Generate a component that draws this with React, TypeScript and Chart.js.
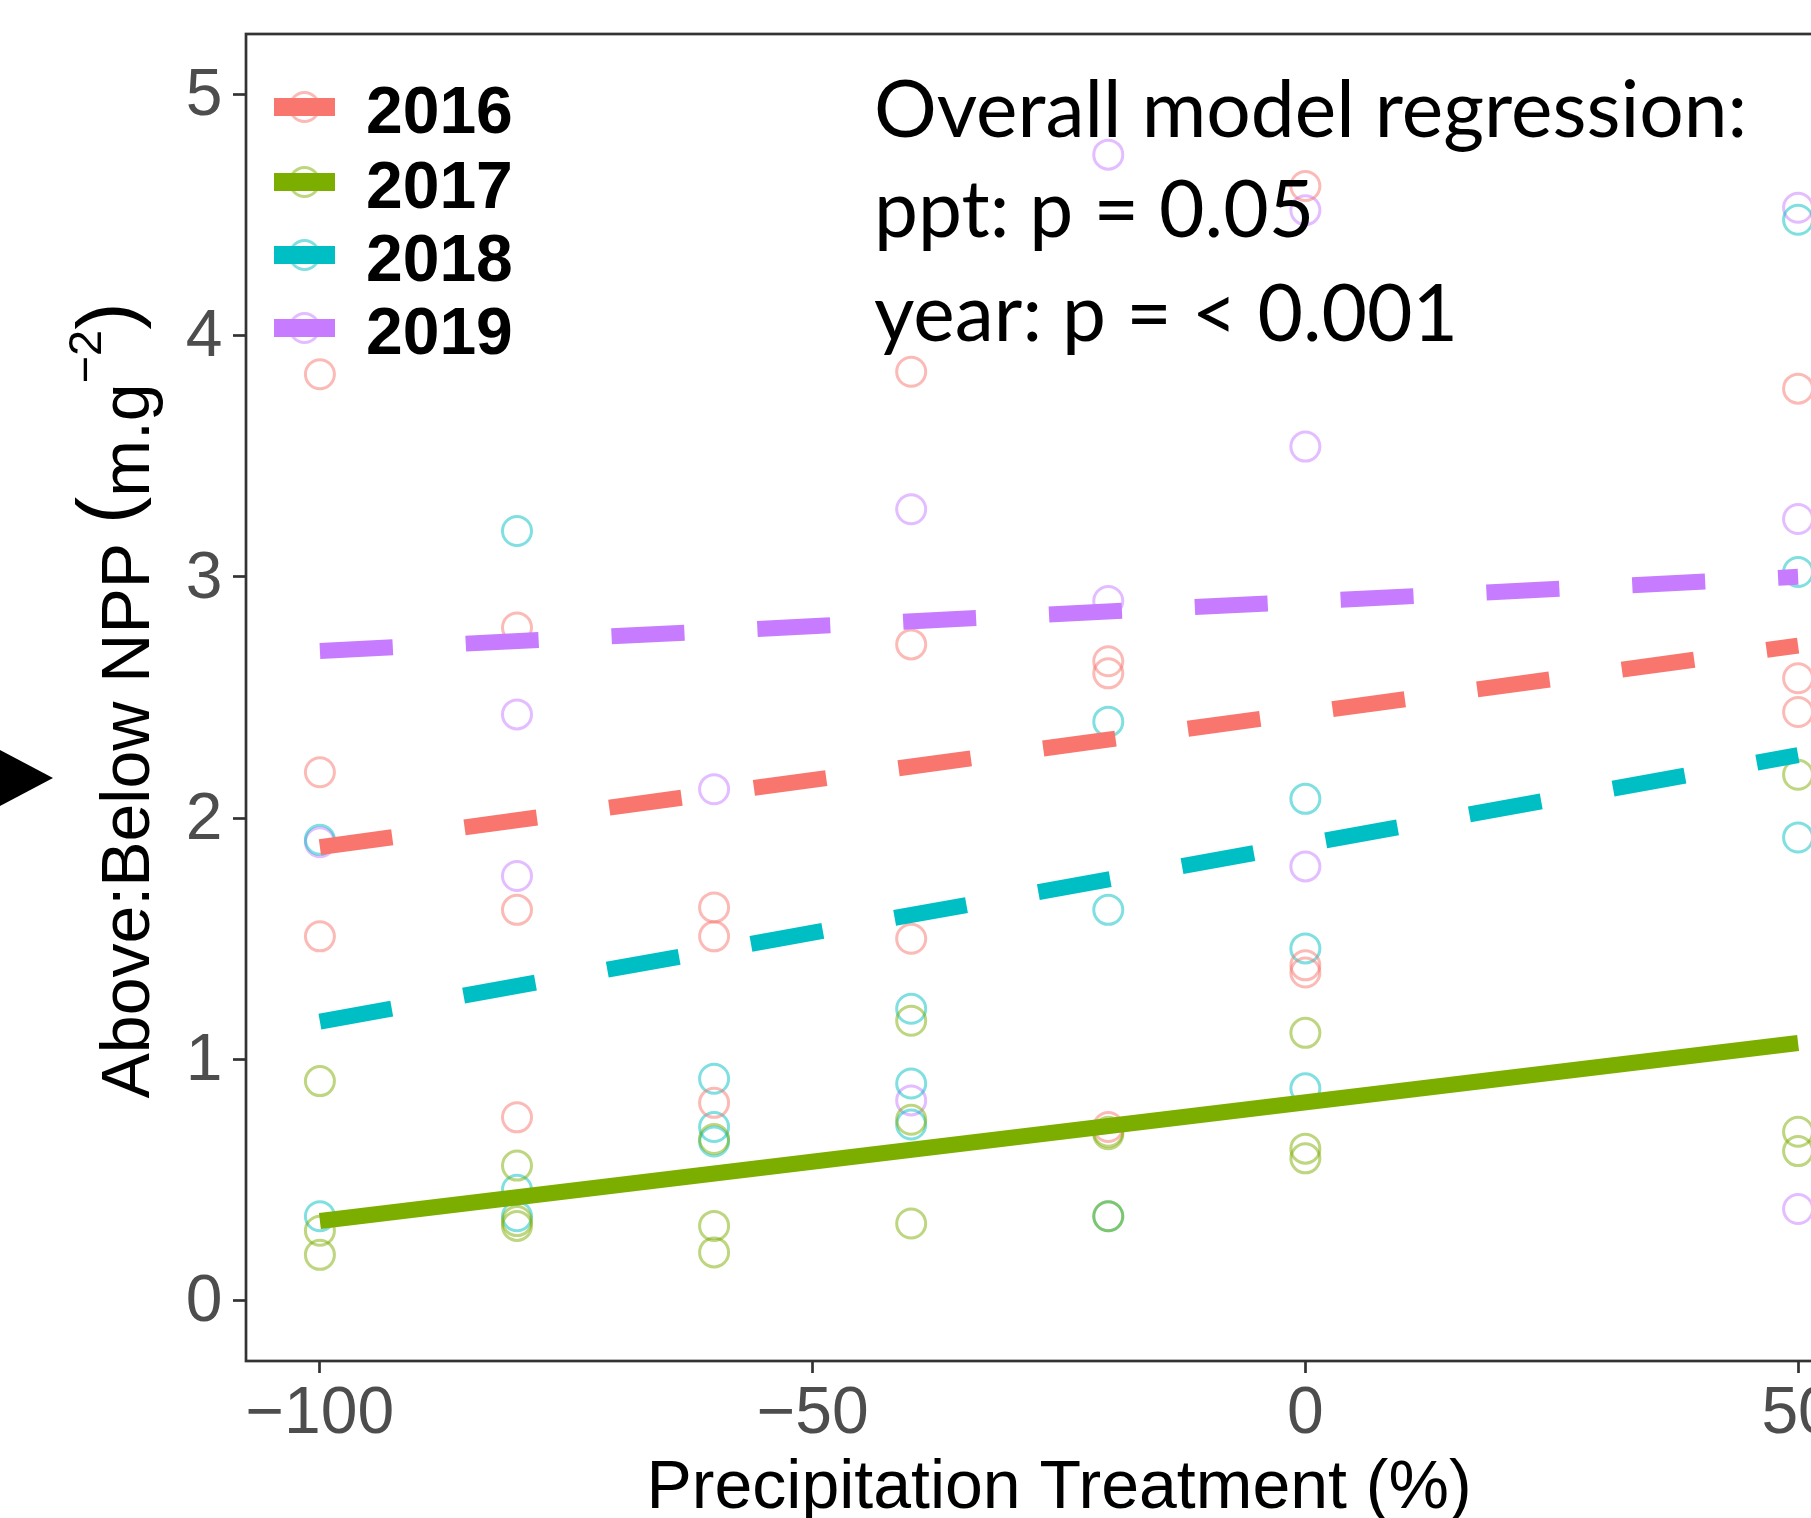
import React, { useEffect, useRef } from 'react';
import { Chart, registerables } from 'chart.js';

Chart.register(...registerables);

// ---------- data ----------
const YEARS = ['2016', '2017', '2018', '2019'];
const LINE_COLORS = ['#F8766D', '#7CAE00', '#00BFC4', '#C77CFF'];
const POINT_COLORS = [
  'rgba(248,118,109,0.5)',
  'rgba(124,174,0,0.5)',
  'rgba(0,191,196,0.5)',
  'rgba(199,124,255,0.5)',
];
const DASHED = [true, false, true, true];

const X_TICKS = [-100, -50, 0, 50];
const Y_TICKS = [0, 1, 2, 3, 4, 5];

const ppt2016 = [-100, -100, -100, -80, -80, -80, -60, -60, -60, -40, -40, -40, -20, -20, -20, 0, 0, 0, 50, 50, 50];
const ratio2016 = [3.84, 2.19, 1.51, 2.79, 1.62, 0.76, 1.63, 1.51, 0.82, 3.85, 2.72, 1.5, 2.65, 2.6, 0.72, 4.62, 1.39, 1.36, 3.78, 2.58, 2.44];

const ppt2017 = [-100, -100, -100, -80, -80, -80, -60, -60, -60, -40, -40, -40, -20, -20, -20, 0, 0, 0, 50, 50, 50];
const ratio2017 = [0.91, 0.29, 0.19, 0.56, 0.33, 0.31, 0.67, 0.31, 0.2, 1.16, 0.75, 0.32, 0.7, 0.69, 0.35, 1.11, 0.63, 0.59, 2.18, 0.7, 0.62];

const ppt2018 = [-100, -100, -80, -80, -80, -60, -60, -60, -40, -40, -40, -20, -20, -20, 0, 0, 0, 50, 50, 50];
const ratio2018 = [1.91, 0.35, 3.19, 0.46, 0.35, 0.92, 0.72, 0.66, 1.21, 0.9, 0.73, 2.4, 1.62, 0.35, 2.08, 1.46, 0.88, 4.48, 3.02, 1.92];

const ppt2019 = [-100, -80, -80, -60, -40, -40, -20, -20, 0, 0, 0, 50, 50, 50];
const ratio2019 = [1.9, 2.43, 1.76, 2.12, 3.28, 0.83, 4.75, 2.9, 4.52, 3.54, 1.8, 4.53, 3.24, 0.38];

const FIT_PPT = [-100, 50];
const fit2016 = [1.88, 2.715];
const fit2017 = [0.33, 1.068];
const fit2018 = [1.157, 2.261];
const fit2019 = [2.693, 3.0];

const ANNOTATION = ['Overall model regression:', 'ppt: p = 0.05', 'year: p = < 0.001'];
const X_TITLE = 'Precipitation Treatment (%)';
const Y_TITLE_MAIN = 'Above:Below NPP ';
const Y_TITLE_UNIT = 'm.g';
const Y_TITLE_EXP = '\u22122';

// ---------- styles ----------
const FONT = "'Liberation Sans', Arial, Helvetica, sans-serif";
const ANNOT_FONT = "Lato, 'Open Sans', sans-serif";
const CANVAS_W = 1900;
const CANVAS_H = 1518;

const fmtTick = (v: number) => (v < 0 ? '\u2212' + Math.abs(v) : String(v));

const pointSets = [
  [ppt2016, ratio2016],
  [ppt2017, ratio2017],
  [ppt2018, ratio2018],
  [ppt2019, ratio2019],
];
const fitSets = [fit2016, fit2017, fit2018, fit2019];

const decorPlugin = {
  id: 'decor',
  afterDraw(chart: any) {
    const ctx = chart.ctx as CanvasRenderingContext2D;
    const a = chart.chartArea;
    ctx.save();

    // panel border
    ctx.strokeStyle = '#333333';
    ctx.lineWidth = 2.7;
    ctx.strokeRect(a.left, a.top, a.right - a.left, a.bottom - a.top);

    // legend
    const legX0 = 274;
    const legX1 = 335;
    const legY = [107, 182, 255, 328];
    YEARS.forEach((yr, i) => {
      const cx = (legX0 + legX1) / 2;
      ctx.beginPath();
      ctx.arc(cx, legY[i], 14.5, 0, Math.PI * 2);
      ctx.strokeStyle = POINT_COLORS[i];
      ctx.lineWidth = 3;
      ctx.stroke();
      ctx.fillStyle = LINE_COLORS[i];
      ctx.fillRect(legX0, legY[i] - 9, legX1 - legX0, 18);
      ctx.fillStyle = '#000';
      ctx.font = `bold 66px ${FONT}`;
      ctx.textAlign = 'left';
      ctx.textBaseline = 'alphabetic';
      ctx.fillText(yr, 366, legY[i] + 26);
    });

    // annotation
    ctx.fillStyle = '#000';
    ctx.font = `78.5px ${ANNOT_FONT}`;
    ctx.textAlign = 'left';
    ctx.textBaseline = 'alphabetic';
    const annY = [137, 237, 341];
    ANNOTATION.forEach((t, i) => ctx.fillText(t, 874, annY[i]));

    // x title
    ctx.font = `68px ${FONT}`;
    ctx.textAlign = 'center';
    ctx.fillText(X_TITLE, (a.left + a.right) / 2, 1508);

    // y title (rotated, with superscript)
    ctx.save();
    ctx.translate(149, (a.top + a.bottom) / 2);
    ctx.rotate(-Math.PI / 2);
    ctx.textAlign = 'left';
    const main = `68px ${FONT}`;
    const paren = `82px ${FONT}`;
    const sup = `47px ${FONT}`;
    const parts = [
      { t: Y_TITLE_MAIN, f: main, dy: 0 },
      { t: '(', f: paren, dy: -15 },
      { t: Y_TITLE_UNIT, f: main, dy: 0 },
      { t: Y_TITLE_EXP, f: sup, dy: -48 },
      { t: ')', f: paren, dy: -15 },
    ];
    const widths = parts.map((p) => {
      ctx.font = p.f;
      return ctx.measureText(p.t).width;
    });
    const total = widths.reduce((s, w) => s + w, 0);
    let x = -total / 2 - 3;
    parts.forEach((p, i) => {
      ctx.font = p.f;
      ctx.fillText(p.t, x, p.dy);
      x += widths[i];
    });
    ctx.restore();

    // arrow marker at left
    ctx.beginPath();
    ctx.moveTo(0, 750);
    ctx.lineTo(53, 778);
    ctx.lineTo(0, 806);
    ctx.closePath();
    ctx.fillStyle = '#000';
    ctx.fill();

    ctx.restore();
  },
};

export default function App() {
  const ref = useRef<HTMLCanvasElement>(null);

  useEffect(() => {
    if (!ref.current) return;
    const datasets: any[] = [];
    fitSets.forEach((fit, i) => {
      datasets.push({
        label: YEARS[i] + ' fit',
        data: FIT_PPT.map((x, j) => ({ x, y: fit[j] })),
        showLine: true,
        borderColor: LINE_COLORS[i],
        borderWidth: 16,
        borderDash: DASHED[i] ? [73, 73] : [],
        borderCapStyle: 'butt',
        pointRadius: 0,
        pointHoverRadius: 0,
        fill: false,
        order: 0,
      });
    });
    pointSets.forEach(([xs, ys], i) => {
      datasets.push({
        label: YEARS[i],
        data: xs.map((x, j) => ({ x, y: ys[j] })),
        showLine: false,
        pointStyle: 'circle',
        pointRadius: 14.5,
        pointHoverRadius: 14.5,
        pointBorderWidth: 3,
        pointBackgroundColor: 'rgba(0,0,0,0)',
        pointBorderColor: POINT_COLORS[i],
        order: 1,
      });
    });

    const chart = new Chart(ref.current, {
      type: 'scatter',
      data: { datasets },
      options: {
        responsive: false,
        animation: false,
        events: [],
        layout: { padding: { top: 34, right: CANVAS_W - 1872, left: 0, bottom: 0 } },
        plugins: { legend: { display: false }, tooltip: { enabled: false } },
        scales: {
          x: {
            type: 'linear',
            min: -107.5,
            max: 57.5,
            afterBuildTicks: (s: any) => {
              s.ticks = X_TICKS.map((v) => ({ value: v }));
            },
            afterFit: (s: any) => {
              s.height = CANVAS_H - 1361;
              s.paddingLeft = 0;
              s.paddingRight = 0;
            },
            grid: {
              drawOnChartArea: false,
              drawTicks: true,
              tickLength: 12,
              tickColor: '#333333',
              tickWidth: 2.7,
            },
            border: { display: false },
            ticks: {
              color: '#4D4D4D',
              font: { family: FONT, size: 66, lineHeight: 1 },
              padding: 9,
              maxRotation: 0,
              autoSkip: false,
              callback: (v: any) => fmtTick(Number(v)),
            },
          },
          y: {
            type: 'linear',
            min: -0.25,
            max: 5.25,
            afterBuildTicks: (s: any) => {
              s.ticks = Y_TICKS.map((v) => ({ value: v }));
            },
            afterFit: (s: any) => {
              s.width = 246;
              s.paddingTop = 0;
              s.paddingBottom = 0;
            },
            grid: {
              drawOnChartArea: false,
              drawTicks: true,
              tickLength: 13,
              tickColor: '#333333',
              tickWidth: 2.7,
            },
            border: { display: false },
            ticks: {
              color: '#4D4D4D',
              font: { family: FONT, size: 66, lineHeight: 1 },
              padding: 10.5,
              labelOffset: 2.5,
              autoSkip: false,
              callback: (v: any) => fmtTick(Number(v)),
            },
          },
        },
      },
      plugins: [decorPlugin],
    } as any);
    return () => chart.destroy();
  }, []);

  return (
    <div
      style={{
        position: 'absolute',
        left: 0,
        top: 0,
        width: 1811,
        height: 1518,
        overflow: 'hidden',
        background: '#ffffff',
      }}
    >
      <canvas
        ref={ref}
        width={CANVAS_W}
        height={CANVAS_H}
        style={{ display: 'block', width: CANVAS_W, height: CANVAS_H }}
      />
    </div>
  );
}
